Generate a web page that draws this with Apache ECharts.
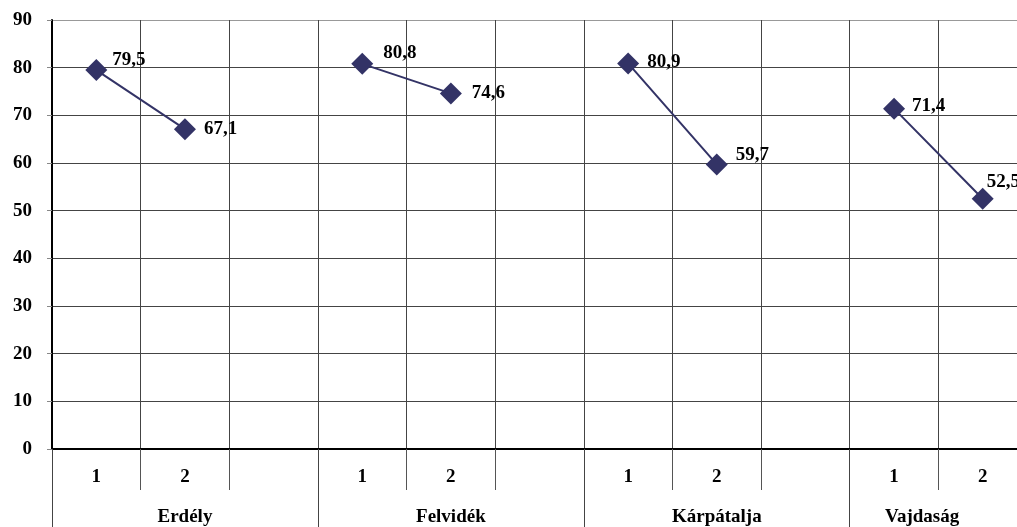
<!DOCTYPE html>
<html>
<head>
<meta charset="utf-8">
<script src="https://cdn.jsdelivr.net/npm/echarts@6/dist/echarts.min.js"></script>
<style>
html,body{margin:0;padding:0;background:#fff;}
#chart{width:1017px;height:527px;}
</style>
</head>
<body>
<div id="chart"></div>
<script>
// Data
const slotLabels = ['1', '2', '', '1', '2', '', '1', '2', '', '1', '2'];
const groupNames = ['Erdély', 'Felvidék', 'Kárpátalja', 'Vajdaság'];
const groupStarts = [0, 3, 6, 9];
const values = [79.5, 67.1, null, 80.8, 74.6, null, 80.9, 59.7, null, 71.4, 52.5];
const yTicks = [0, 10, 20, 30, 40, 50, 60, 70, 80, 90];

// Styles (label nudges per point, not data)
const labelNudges = [[-3, -10], [0, 0], null, [2, -11], [2, 0], null, [0, -1], [0, -9], null, [-1, -3], [-15, -17]];

const FONT = '"Liberation Serif", "DejaVu Serif", serif';
const textBase = { fontFamily: FONT, fontWeight: 'bold', fontSize: 19, color: '#000' };

// group label axis: label at middle slot of each group
const groupAxisData = slotLabels.map(() => '');
groupNames.forEach((g, i) => {
  const start = groupStarts[i];
  const end = i + 1 < groupStarts.length ? groupStarts[i + 1] : slotLabels.length;
  const len = end - start;
  if (len % 2 === 1) {
    groupAxisData[start + (len - 1) / 2] = g;
  } else {
    groupAxisData[start + len / 2 - 1] = { value: g, textStyle: { padding: [0, 0, 0, 56] } };
  }
});

const seriesData = values.map((v, i) => {
  if (v === null) return null;
  const n = labelNudges[i] || [0, 0];
  return { value: v, label: { offset: n } };
});

const chart = echarts.init(document.getElementById('chart'));
chart.setOption({
  animation: false,
  backgroundColor: '#fff',
  grid: { left: 52, width: 975, top: 20, bottom: 78, containLabel: false, outerBoundsMode: 'none' },
  xAxis: [
    {
      type: 'category',
      data: slotLabels,
      position: 'bottom',
      boundaryGap: true,
      axisLine: { show: true, lineStyle: { color: '#000', width: 2 } },
      axisTick: { show: true, interval: 0, length: 41, lineStyle: { color: '#555', width: 1 } },
      axisLabel: Object.assign({ interval: 0, margin: 19 }, textBase),
      splitLine: { show: true, interval: 0, lineStyle: { color: '#444', width: 1 } }
    },
    {
      type: 'category',
      data: groupAxisData,
      position: 'bottom',
      boundaryGap: true,
      axisLine: { show: false },
      axisTick: {
        show: true,
        interval: function (index) { return groupStarts.indexOf(index) !== -1; },
        length: 80,
        lineStyle: { color: '#444', width: 1 }
      },
      axisLabel: Object.assign({ interval: 0, margin: 59 }, textBase),
      splitLine: { show: false }
    }
  ],
  yAxis: {
    type: 'value',
    min: yTicks[0],
    max: yTicks[yTicks.length - 1],
    interval: 10,
    axisLine: { show: true, lineStyle: { color: '#000', width: 2 } },
    axisTick: { show: true, length: 5, lineStyle: { color: '#888' } },
    axisLabel: Object.assign({ margin: 20 }, textBase),
    splitLine: {
      show: true,
      lineStyle: { color: ['#444', '#444', '#444', '#444', '#444', '#444', '#444', '#444', '#444', '#999'], width: 1 }
    }
  },
  series: [
    {
      type: 'line',
      xAxisIndex: 0,
      data: seriesData,
      connectNulls: false,
      symbol: 'diamond',
      symbolSize: 22,
      showAllSymbol: true,
      lineStyle: { color: '#333366', width: 2 },
      itemStyle: { color: '#333366' },
      label: Object.assign({
        show: true,
        position: 'right',
        distance: 8,
        formatter: p => String(p.value).replace('.', ',')
      }, textBase),
      z: 5
    }
  ]
});
</script>
</body>
</html>
